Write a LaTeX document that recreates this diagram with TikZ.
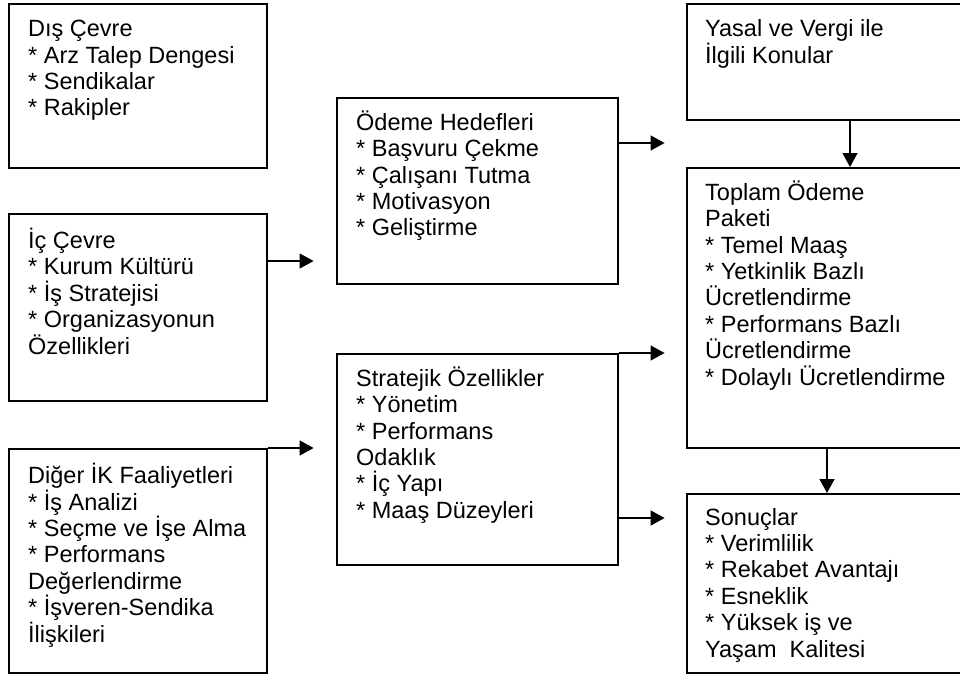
\documentclass[tikz,border=0pt]{standalone}
\usepackage{fontspec}
\setmainfont{Liberation Sans}
\usetikzlibrary{arrows.meta,calc}
\lineskiplimit=-30pt
\begin{document}
\begin{tikzpicture}[x=1pt,y=-1pt,
  boxx/.style={draw,line width=1.6pt,rectangle,inner sep=0pt,anchor=north west},
  txt/.style={anchor=north west,inner sep=0pt,align=left,font=\fontsize{23.5}{26.4}\selectfont},
  arr/.style={line width=1.3pt,-{Triangle[length=14pt,width=15pt]}}]
\clip (0,0) rectangle (960,683);
\fill[white] (0,0) rectangle (960,683);
% boxes
\node[boxx,minimum width=258pt,minimum height=164pt] (b1) at (8,3) {};
\node[boxx,minimum width=258pt,minimum height=187pt] (b2) at (8,213) {};
\node[boxx,minimum width=258pt,minimum height=224pt] (b3) at (8,448) {};
\node[boxx,minimum width=281pt,minimum height=186pt] (b4) at (336,97) {};
\node[boxx,minimum width=281pt,minimum height=211pt] (b5) at (336,353) {};
\node[boxx,minimum width=284pt,minimum height=116pt] (b6) at (686,3) {};
\node[boxx,minimum width=284pt,minimum height=280pt] (b7) at (686,167) {};
\node[boxx,minimum width=284pt,minimum height=179pt] (b8) at (686,493) {};
% texts
\node[txt] (t1) at ($(b1.north west)+(20,15)$) {\strut Dış Çevre\\* Arz Talep Dengesi\\* Sendikalar\\* Rakipler};
\node[txt] (t2) at ($(b2.north west)+(20,15)$) {\strut İç Çevre\\* Kurum Kültürü\\* İş Stratejisi\\* Organizasyonun\\Özellikleri};
\node[txt] (t3) at ($(b3.north west)+(20,15)$) {\strut Diğer İK Faaliyetleri\\* İş Analizi\\* Seçme ve İşe Alma\\* Performans\\Değerlendirme\\* İşveren-Sendika\\İlişkileri};
\node[txt] (t4) at ($(b4.north west)+(20,13.5)$) {\strut Ödeme Hedefleri\\* Başvuru Çekme\\* Çalışanı Tutma\\* Motivasyon\\* Geliştirme};
\node[txt] (t5) at ($(b5.north west)+(20,13.5)$) {\strut Stratejik Özellikler\\* Yönetim\\* Performans\\Odaklık\\* İç Yapı\\* Maaş Düzeyleri};
\node[txt] (t6) at ($(b6.north west)+(19,15)$) {\strut Yasal ve Vergi ile\\İlgili Konular};
\node[txt] (t7) at ($(b7.north west)+(19,13.5)$) {\strut Toplam Ödeme\\Paketi\\* Temel Maaş\\* Yetkinlik Bazlı\\Ücretlendirme\\* Performans Bazlı\\Ücretlendirme\\* Dolaylı Ücretlendirme};
\node[txt] (t8) at ($(b8.north west)+(19,13.5)$) {\strut Sonuçlar\\* Verimlilik\\* Rekabet Avantajı\\* Esneklik\\* Yüksek iş ve\\Yaşam\ \ Kalitesi};
% connector ends
\coordinate (s2) at ($(b2.north east)+(0,48)$);
\coordinate (e2) at ($(s2)+(46,0)$);
\coordinate (e3) at ($(b3.north east)+(46,0)$);
\coordinate (s4) at ($(b4.north east)+(0,46)$);
\coordinate (e4) at ($(s4)+(46,0)$);
\coordinate (e5a) at ($(b5.north east)+(46,0)$);
\coordinate (s5b) at ($(b5.north east)+(0,165)$);
\coordinate (e5b) at ($(s5b)+(46,0)$);
\coordinate (s6) at ($(b6.south west)+(164,0)$);
\coordinate (s7) at ($(b7.south west)+(141,0)$);
% arrows
\draw[arr] (s2) -- (e2);
\draw[arr] (b3.north east) -- (e3);
\draw[arr] (s4) -- (e4);
\draw[arr] (b5.north east) -- (e5a);
\draw[arr] (s5b) -- (e5b);
\draw[arr] (s6) -- (s6 |- b7.north);
\draw[arr] (s7) -- (s7 |- b8.north);
\end{tikzpicture}
\end{document}
